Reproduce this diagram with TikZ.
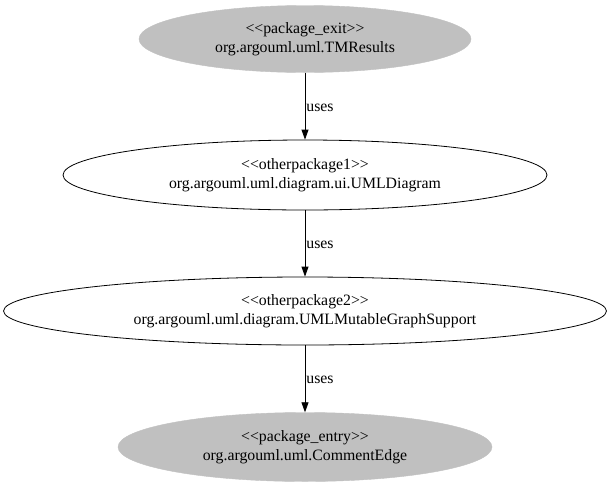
\documentclass[tikz,border=0pt]{standalone}
\usepackage{fontspec}
\setmainfont[Ligatures=NoCommon]{Liberation Serif}
\usetikzlibrary{shapes.geometric,arrows.meta}
\definecolor{pkggray}{RGB}{192,192,192}
\newcommand{\lt}{{<}\kern0pt{<}}
\newcommand{\gt}{{>}\kern0pt{>}}
\tikzset{
  pkg/.style={ellipse, inner sep=0pt, align=center, font=\fontsize{15.8}{18.5}\selectfont},
  grayell/.style={pkg, fill=pkggray, draw=pkggray},
  whiteell/.style={pkg, draw=black, line width=0.8pt},
  uses/.style={draw=black, line width=0.8pt, -{Triangle[length=10pt,width=7pt]}},
  lbl/.style={font=\fontsize{15.8}{18.5}\selectfont, anchor=west, inner sep=1pt}
}
\begin{document}
\begin{tikzpicture}[x=1pt,y=1pt]
\useasboundingbox (0,0) rectangle (611,-488);
\node[grayell, minimum width=332pt, minimum height=67pt] (a) at (305,-39) {\lt package\_exit\gt\\org.argouml.uml.TMResults};
\node[whiteell, minimum width=484pt, minimum height=70pt] (b) at (305,-175) {\lt otherpackage1\gt\\org.argouml.uml.diagram.ui.UMLDiagram};
\node[whiteell, minimum width=603pt, minimum height=68pt] (c) at (305,-311) {\lt otherpackage2\gt\\org.argouml.uml.diagram.UMLMutableGraphSupport};
\node[grayell, minimum width=374pt, minimum height=69pt] (d) at (305,-447) {\lt package\_entry\gt\\org.argouml.uml.CommentEdge};
\draw[uses] (a) -- node[lbl, pos=0.52] {uses} (b);
\draw[uses] (b) -- node[lbl, pos=0.52] {uses} (c);
\draw[uses] (c) -- node[lbl, pos=0.52] {uses} (d);
\end{tikzpicture}
\end{document}
